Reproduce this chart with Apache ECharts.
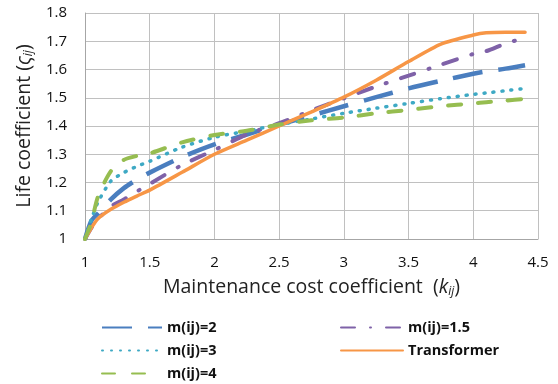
<!DOCTYPE html>
<html>
<head>
<meta charset="utf-8">
<script src="https://cdn.jsdelivr.net/npm/echarts@6/dist/echarts.min.js"></script>
<style>
  html, body { margin: 0; padding: 0; background: #fff; }
  #chart { width: 558px; height: 384px; }
</style>
</head>
<body>
<div id="chart"></div>
<script>
// Maintenance cost coefficient k_ij (shared sample points)
const kValues = [1, 1.05, 1.1, 1.2, 1.3, 1.4, 1.5, 1.75, 2, 2.25, 2.5, 2.75, 3, 3.25, 3.5, 3.75, 4, 4.1, 4.25, 4.4];

// Life coefficient for each curve
const m2Values   = [1, 1.065, 1.09, 1.14, 1.18, 1.21, 1.235, 1.29, 1.335, 1.37, 1.405, 1.437, 1.47, 1.502, 1.533, 1.56, 1.585, 1.593, 1.603, 1.615];
const m15Values  = [1, 1.04, 1.07, 1.115, 1.14, 1.168, 1.195, 1.262, 1.315, 1.37, 1.41, 1.455, 1.498, 1.54, 1.578, 1.617, 1.655, 1.665, 1.692, 1.712];
const m3Values   = [1, 1.07, 1.13, 1.205, 1.235, 1.257, 1.275, 1.325, 1.36, 1.382, 1.405, 1.425, 1.445, 1.463, 1.48, 1.497, 1.512, 1.517, 1.525, 1.533];
const transValues = [1, 1.04, 1.072, 1.105, 1.13, 1.152, 1.173, 1.236, 1.3, 1.35, 1.4, 1.45, 1.502, 1.562, 1.628, 1.69, 1.722, 1.73, 1.732, 1.732];
const m4Values   = [1, 1.06, 1.15, 1.24, 1.28, 1.294, 1.303, 1.342, 1.368, 1.383, 1.405, 1.42, 1.43, 1.445, 1.457, 1.47, 1.48, 1.484, 1.49, 1.496];

const xTicks = { min: 1, max: 4.5, step: 0.5 };
const yTicks = { min: 1, max: 1.8, step: 0.1 };

const pairs = vals => kValues.map((k, i) => [k, vals[i]]);

const font = '"Open Sans", "Liberation Sans", sans-serif';

function lineSeries(name, vals, color, type, width, cap) {
  return {
    name: name,
    type: 'line',
    data: pairs(vals),
    smooth: 0.25,
    symbol: 'none',
    lineStyle: { color: color, width: width, type: type, cap: cap || 'round' },
    itemStyle: { color: color },
    emphasis: { disabled: true }
  };
}

const titleRich = {
  t: { fontFamily: font, fontSize: 19.5, color: '#222' },
  p: { fontFamily: font, fontSize: 19.5, color: '#222' },
  i: { fontFamily: font, fontSize: 19.5, fontStyle: 'italic', color: '#222' },
  s: { fontFamily: font, fontSize: 12, fontStyle: 'italic', color: '#222', padding: [9, 0, 0, 0] }
};

const legendText = { fontFamily: font, fontSize: 14.5, fontWeight: 'bold', color: '#111', lineHeight: 19 };

const chart = echarts.init(document.getElementById('chart'), null, { renderer: 'canvas' });

chart.setOption({
  animation: false,
  backgroundColor: '#ffffff',
  grid: { left: 85, right: 20, top: 13, bottom: 145, containLabel: false },
  xAxis: {
    type: 'value',
    min: xTicks.min, max: xTicks.max, interval: xTicks.step,
    name: '{t|Maintenance cost coefficient  }{p|(}{i|k}{s|ij}{p|)}',
    nameLocation: 'middle',
    nameGap: 38,
    nameTextStyle: { rich: titleRich },
    axisLine: { show: true, lineStyle: { color: '#a6a6a6', width: 1 } },
    axisTick: { show: false },
    axisLabel: { fontFamily: font, fontSize: 15, color: '#111', margin: 16 },
    splitLine: { show: true, lineStyle: { color: '#c0c0c0', width: 1 } }
  },
  yAxis: {
    type: 'value',
    min: yTicks.min, max: yTicks.max, interval: yTicks.step,
    name: '{t|Life coefficient }{p|(}{i|ς}{s|ij}{p|)}',
    nameLocation: 'middle',
    nameGap: 48,
    nameTextStyle: { rich: titleRich },
    axisLine: { show: true, lineStyle: { color: '#a6a6a6', width: 1 } },
    axisTick: { show: false },
    axisLabel: {
      fontFamily: font, fontSize: 15, color: '#111', margin: 18,
      formatter: v => String(Math.round(v * 10) / 10)
    },
    splitLine: { show: true, lineStyle: { color: '#c0c0c0', width: 1 } }
  },
  legend: [
    {
      data: ['m(ij)=2', 'm(ij)=3', 'm(ij)=4'],
      orient: 'vertical',
      left: 101, top: 318, padding: 0,
      itemWidth: 60, itemHeight: 12, itemGap: 4,
      itemStyle: { opacity: 0 },
      textStyle: legendText
    },
    {
      data: ['m(ij)=1.5', 'Transformer'],
      orient: 'vertical',
      left: 340, top: 318, padding: 0,
      itemWidth: 62, itemHeight: 12, itemGap: 4,
      itemStyle: { opacity: 0 },
      textStyle: legendText
    }
  ],
  series: [
    lineSeries('m(ij)=2', m2Values, '#4a7ebf', [30, 16], 4.5, 'butt'),
    lineSeries('m(ij)=1.5', m15Values, '#7f62a8', [14, 15, 1, 15], 4),
    lineSeries('m(ij)=3', m3Values, '#3ea9c4', [1, 8], 3.5),
    lineSeries('Transformer', transValues, '#f79646', 'solid', 3.5),
    lineSeries('m(ij)=4', m4Values, '#96bd50', [13, 17], 4)
  ]
});
</script>
</body>
</html>
